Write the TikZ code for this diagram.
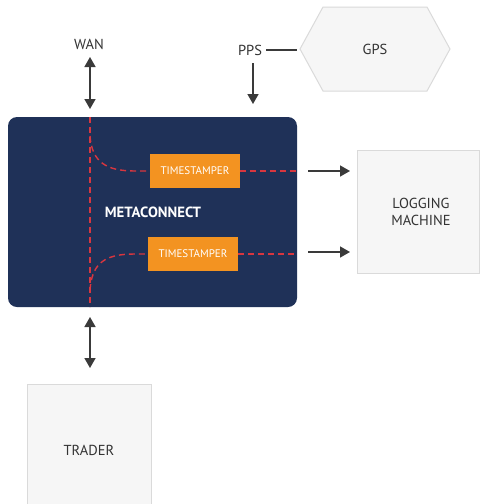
\documentclass[tikz,border=0pt]{standalone}
\usepackage{fontspec}
\setmainfont{PT Sans}
\usetikzlibrary{arrows.meta}
\definecolor{navy}{HTML}{1F3158}
\definecolor{orng}{HTML}{F39321}
\definecolor{redd}{HTML}{D8363F}
\definecolor{boxfill}{HTML}{F6F6F6}
\definecolor{boxline}{HTML}{DADADA}
\definecolor{arr}{HTML}{3A3A3A}
\definecolor{txt}{HTML}{333333}
\tikzset{
  lightbox/.style={draw=boxline, fill=boxfill, line width=1pt},
  tsbox/.style={fill=orng, minimum width=90pt, minimum height=34pt, inner sep=0pt, text=white, font=\fontsize{11}{12}\selectfont},
  lbl/.style={text=txt, font=\fontsize{14.5}{17}\selectfont, align=center},
  sig/.style={draw=redd, line width=1.4pt, dash pattern=on 6pt off 4pt},
  onearr/.style={draw=arr, line width=1.6pt, -{Triangle[length=10pt,width=11pt]}},
  twoarr/.style={draw=arr, line width=1.6pt, {Triangle[length=10pt,width=11pt]}-{Triangle[length=10pt,width=11pt]}}
}
\begin{document}
\begin{tikzpicture}[x=1pt,y=-1pt]
\useasboundingbox[fill=white] (0,0) rectangle (480,504);
\clip (0,0) rectangle (480,504);
% main box
\node[fill=navy, rounded corners=9pt, minimum width=289pt, minimum height=190pt, inner sep=0pt] (mc) at (152.5,212) {};
\node[text=white, font=\bfseries\fontsize{14.8}{16}\selectfont] (mclbl) at (153,212) {METACONNECT};
\node[tsbox] (ts1) at (195,171) {TIMESTAMPER};
\node[tsbox] (ts2) at (193,254) {TIMESTAMPER};
% red signal lines
\coordinate (vt) at (90,117);
\coordinate (vb) at (90,307);
\draw[sig] (vt) -- (vb);
\draw[sig] (90,136) .. controls (92,162) and (106,171) .. (135,171) -- (ts1.west);
\draw[sig] (90,290) .. controls (92,262) and (106,254) .. (135,254) -- (ts2.west);
\coordinate (e1) at (297,171);
\coordinate (e2) at (297,254);
\draw[sig] (ts1.east) -- (e1);
\draw[sig] (ts2.east) -- (e2);
% logging machine
\node[lightbox, minimum width=122pt, minimum height=123pt, inner sep=0pt] (log) at (418,211.5) {};
\node[lbl] (loglbl) at (421,212) {LOGGING\\MACHINE};
\coordinate (a1s) at (308,171);
\coordinate (a2s) at (308,252);
\coordinate (a1e) at (350,171);
\coordinate (a2e) at (350,252);
\draw[onearr] (a1s) -- (a1e);
\draw[onearr] (a2s) -- (a2e);
% GPS
\draw[lightbox] (300,49) -- (323,7) -- (427,7) -- (450,49) -- (427,91) -- (323,91) -- cycle;
\node[lbl] (gps) at (375,49) {GPS};
\node[lbl] (pps) at (250,50) {PPS};
\coordinate (gl) at (297,50);
\draw[draw=arr, line width=1.2pt] ([xshift=1pt]pps.east) -- (gl);
\coordinate (ppss) at (253,63);
\coordinate (ppsend) at (253,104);
\draw[onearr] (ppss) -- (ppsend);
% WAN
\node[lbl] (wan) at (89,44) {WAN};
\coordinate (w1) at (90,57);
\coordinate (w2) at (90,109);
\draw[twoarr] (w1) -- (w2);
% trader
\coordinate (t1) at (90,317);
\coordinate (t2) at (90,368);
\draw[twoarr] (t1) -- (t2);
\node[lightbox, minimum width=124pt, minimum height=130pt, inner sep=0pt] (trader) at (89,449) {};
\node[lbl] (trlbl) at (89,450) {TRADER};
\end{tikzpicture}
\end{document}
